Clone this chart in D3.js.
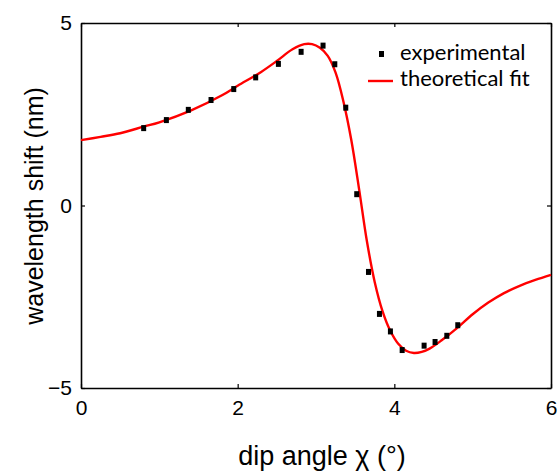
<!DOCTYPE html>
<html>
<head>
<meta charset="utf-8">
<script src="https://cdn.jsdelivr.net/npm/d3@7"></script>
<style>
  body { margin: 0; background: #fff; }
  .tick text { font-family: "Liberation Sans", Arial, sans-serif; }
</style>
</head>
<body>
<div id="graph"></div>
<script>
// measured points (dip angle, shift)
let expX = [0.80, 1.09, 1.37, 1.66, 1.95, 2.23, 2.52, 2.81, 3.09, 3.24, 3.38, 3.52, 3.67, 3.81, 3.95, 4.10, 4.38, 4.52, 4.67, 4.81];
let expY = [2.12, 2.34, 2.62, 2.89, 3.19, 3.51, 3.88, 4.21, 4.38, 3.87, 2.68, 0.31, -1.82, -2.97, -3.45, -3.96, -3.84, -3.74, -3.57, -3.28];

// fit curve
let fitX = [0, 0.25, 0.5, 0.8, 1.0, 1.4, 1.8, 2.0, 2.3, 2.5, 2.7, 2.85, 2.95, 3.05, 3.15, 3.25, 3.35, 3.45, 3.55, 3.65, 3.75, 3.85, 3.95, 4.05, 4.15, 4.25, 4.35, 4.45, 4.6, 4.8, 5.0, 5.2, 5.4, 5.6, 5.8, 6.0];
let fitY = [1.79, 1.88, 1.98, 2.16, 2.28, 2.60, 3.02, 3.28, 3.66, 3.96, 4.28, 4.42, 4.42, 4.32, 4.10, 3.64, 2.85, 1.80, 0.45, -0.98, -2.10, -2.90, -3.44, -3.79, -3.98, -4.04, -4.01, -3.92, -3.70, -3.36, -2.98, -2.66, -2.40, -2.20, -2.04, -1.90];

let xTicks = [0, 2, 4, 6];
let yTicks = [-5, 0, 5];

var svgWidth = 558, svgHeight = 471;
var margin = { top: 23, right: 7, bottom: 83, left: 81 };
var chartWidth = svgWidth - margin.left - margin.right;
var chartHeight = svgHeight - margin.top - margin.bottom;

var svg = d3.select("#graph").append("svg")
  .attr("width", svgWidth)
  .attr("height", svgHeight);

var chartGroup = svg.append("g")
  .attr("transform", `translate(${margin.left}, ${margin.top})`);

var x = d3.scaleLinear().domain([0, 6]).range([0, chartWidth]);
var y = d3.scaleLinear().domain([-5, 5]).range([chartHeight, 0]);

// axes, ticks pointing inward
var bottomAxis = d3.axisBottom(x).tickValues(xTicks).tickFormat(d3.format("d")).tickSizeInner(-4).tickSizeOuter(0).tickPadding(12);
var leftAxis = d3.axisLeft(y).tickValues(yTicks).tickFormat(d3.format("d")).tickSizeInner(-4).tickSizeOuter(0).tickPadding(9);
var topAxis = d3.axisTop(x).tickValues(xTicks).tickSizeInner(-4).tickSizeOuter(0).tickFormat("");
var rightAxis = d3.axisRight(y).tickValues(yTicks).tickSizeInner(-4).tickSizeOuter(0).tickFormat("");

function styleAxis(g) {
  g.selectAll("path").attr("stroke", "#000").attr("stroke-width", 1.6);
  g.selectAll("line").attr("stroke", "#000").attr("stroke-width", 1.2);
  g.selectAll("text").attr("font-size", 21).attr("fill", "#000");
}

chartGroup.append("g").attr("transform", `translate(0, ${chartHeight})`).call(bottomAxis).call(styleAxis);
chartGroup.append("g").call(leftAxis).call(styleAxis);
chartGroup.append("g").call(topAxis).call(styleAxis);
chartGroup.append("g").attr("transform", `translate(${chartWidth}, 0)`).call(rightAxis).call(styleAxis);

// fit line
var fitData = fitX.map((d, i) => ({ x: d, y: fitY[i] }));
var drawLine = d3.line()
  .x(d => x(d.x))
  .y(d => y(d.y))
  .curve(d3.curveCatmullRom.alpha(0.5));

chartGroup.append("path")
  .attr("d", drawLine(fitData))
  .attr("fill", "none")
  .attr("stroke", "#ff0000")
  .attr("stroke-width", 2.4);

// experimental points
var expData = expX.map((d, i) => ({ x: d, y: expY[i] }));
chartGroup.selectAll(".pt").data(expData).enter().append("rect")
  .attr("class", "pt")
  .attr("x", d => x(d.x) - 2.5)
  .attr("y", d => y(d.y) - 3)
  .attr("width", 5)
  .attr("height", 6)
  .attr("fill", "#000");

// axis titles
svg.append("text")
  .attr("x", 322)
  .attr("y", 465)
  .attr("text-anchor", "middle")
  .attr("font-family", "Liberation Sans, Arial, sans-serif")
  .attr("font-size", 27)
  .text("dip angle χ (°)");

svg.append("text")
  .attr("transform", `translate(43, 206) rotate(-90)`)
  .attr("text-anchor", "middle")
  .attr("font-family", "Liberation Sans, Arial, sans-serif")
  .attr("font-size", 25)
  .text("wavelength shift (nm)");

// legend
var legend = svg.append("g");
legend.append("rect").attr("x", 379).attr("y", 51).attr("width", 5).attr("height", 6).attr("fill", "#000");
legend.append("line").attr("x1", 368).attr("x2", 393).attr("y1", 81).attr("y2", 81)
  .attr("stroke", "#ff0000").attr("stroke-width", 2.4);
legend.append("text").attr("x", 400).attr("y", 60)
  .attr("font-family", "Lato, sans-serif").attr("font-size", 22).text("experimental");
legend.append("text").attr("x", 400).attr("y", 86)
  .attr("font-family", "Lato, sans-serif").attr("font-size", 22).text("theoretical fit");
</script>
</body>
</html>
